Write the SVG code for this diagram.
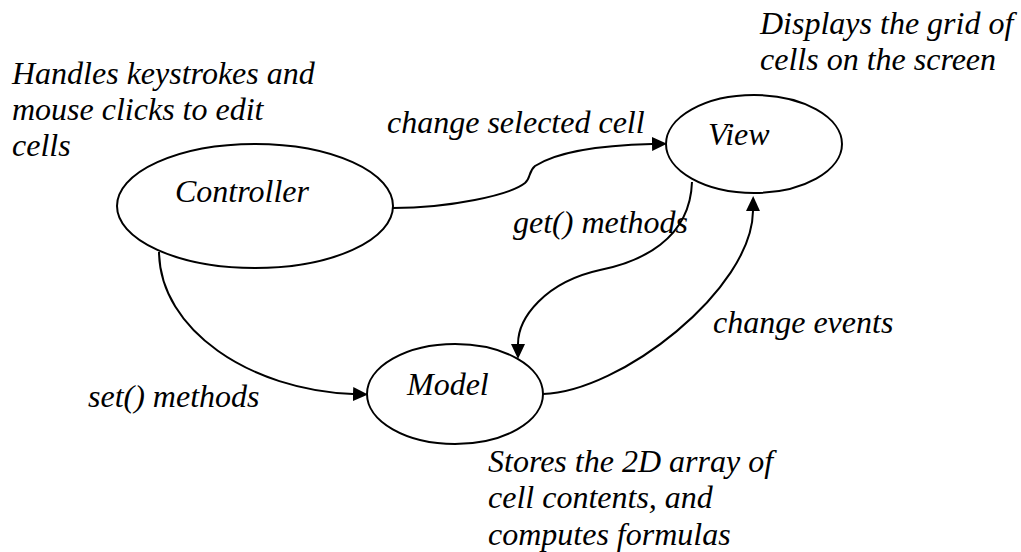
<svg xmlns="http://www.w3.org/2000/svg" width="1021" height="552" viewBox="0 0 1021 552">
<style>
  text { font-family: 'Liberation Serif', 'DejaVu Serif', serif; font-style: italic; font-size: 32px; fill: #000; }
  .node ellipse { fill: #fff; stroke: #000; stroke-width: 2; }
  .edge { fill: none; stroke: #000; stroke-width: 2; marker-end: url(#arrow); }
</style>
<defs>
  <marker id="arrow" markerUnits="userSpaceOnUse" viewBox="0 0 15 14" refX="0" refY="7" markerWidth="15" markerHeight="14" orient="auto">
    <path d="M0,0 L15,7 L0,14 z" fill="#000"/>
  </marker>
</defs>
<rect width="1021" height="552" fill="#fff"/>
<g id="connectors">
  <path class="edge" d="M393,208 C450,208 510,195 525,183 C531,178 528,172 535,166 C560,150 610,145 652,144"/>
  <path class="edge" d="M692,182 C690,240 640,262 600,270 C545,282 518,318 518,344"/>
  <path class="edge" d="M543,394 C620,392 752,290 753,211"/>
  <path class="edge" d="M159,252 C160,330 250,390 353,394"/>
</g>
<g id="controller" class="node">
  <ellipse cx="255" cy="206" rx="138" ry="62"/>
  <text x="175" y="202" font-family="Liberation Serif, serif">Controller</text>
</g>
<g id="view" class="node">
  <ellipse cx="754" cy="144" rx="88" ry="49"/>
  <text x="708" y="145">View</text>
</g>
<g id="model" class="node">
  <ellipse cx="455" cy="394" rx="88" ry="50"/>
  <text x="407" y="395">Model</text>
</g>
<g id="labels">
  <text x="387" y="133">change selected cell</text>
  <text x="513" y="233">get() methods</text>
  <text x="713" y="333">change events</text>
  <text x="88" y="407">set() methods</text>
</g>
<g id="notes">
  <text x="12" y="84">Handles keystrokes and</text>
  <text x="12" y="120">mouse clicks to edit</text>
  <text x="12" y="156">cells</text>
  <text x="760" y="34">Displays the grid of</text>
  <text x="760" y="70">cells on the screen</text>
  <text x="488" y="472">Stores the 2D array of</text>
  <text x="488" y="508">cell contents, and</text>
  <text x="488" y="545">computes formulas</text>
</g>
</svg>
